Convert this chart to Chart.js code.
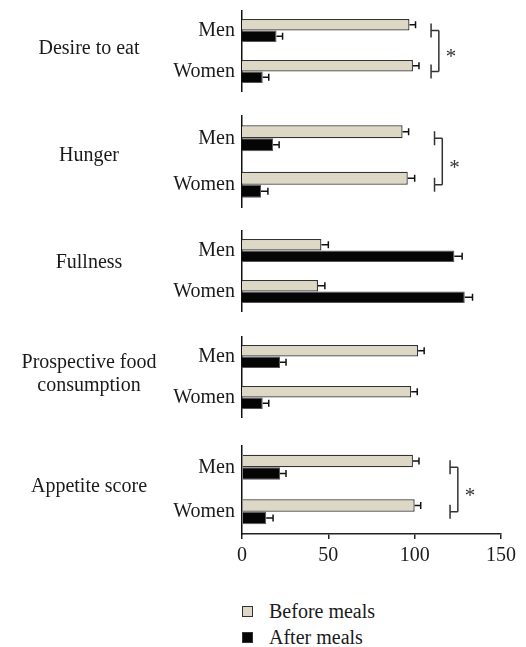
<!DOCTYPE html>
<html lang="en">
<head>
<meta charset="UTF-8">
<title>Appetite ratings before and after meals</title>
<script src="https://cdn.jsdelivr.net/npm/chart.js"></script>
<style>
  body { margin: 0; background: #fff; }
  #wrap { position: relative; width: 526px; height: 647px; font-family: "Liberation Serif", serif; color: #1a1a1a; }
  #wrap canvas { position: absolute; left: 0; }
  .leg { position: absolute; left: 242px; height: 24px; line-height: 24px; font-size: 20px; white-space: nowrap; }
  .leg span { display: inline-block; width: 9px; height: 9px; border: 1px solid #333; vertical-align: middle; margin: -3px 16px 0 0; }
</style>
</head>
<body>
<div id="wrap"></div>

<script>
    // data
    const sexes = ['Men', 'Women'];
    const groupLabels = [['Desire to eat'], ['Hunger'], ['Fullness'], ['Prospective food', 'consumption'], ['Appetite score']];
    const beforeMeals = [[97, 99], [93, 96], [46, 44], [102, 98], [99, 100]];
    const beforeErr = [[3.5, 3.5], [3.5, 4], [4, 4], [3.5, 3.5], [3.5, 3.5]];
    const afterMeals = [[20, 12], [18, 11], [123, 129], [22, 12], [22, 14]];
    const afterErr = [[3.5, 3.5], [3.5, 4], [4.5, 4.5], [3.5, 3.5], [3.5, 4]];
    const significant = [true, true, false, false, true];
    const xTicks = [0, 50, 100, 150];

    // panel layout (pixels) and bracket placement (axis units)
    const panels = [
        { top: 10, height: 82, labelDy: -2, bracket: [109.5, 114] },
        { top: 115, height: 93, labelDy: -6, bracket: [111.5, 116] },
        { top: 230, height: 82, labelDy: -8, bracket: null },
        { top: 336, height: 82, labelDy: -3, bracket: null },
        { top: 445, height: 89, labelDy: -3, bracket: [120.5, 125] }
    ];

    const beige = '#ddd8c5';
    const ink = '#1a1a1a';
    const serif = '"Liberation Serif", serif';

    const extras = {
        id: 'extras',
        afterDatasetsDraw(chart, args, opts) {
            const ctx = chart.ctx;
            const xs = chart.scales.x, ys = chart.scales.y;
            ctx.save();
            ctx.strokeStyle = '#111';
            ctx.lineWidth = 1.5;
            // error bars
            chart.data.datasets.forEach((ds, di) => {
                chart.getDatasetMeta(di).data.forEach((bar, i) => {
                    const x1 = xs.getPixelForValue(ds.data[i] + ds.errors[i]);
                    ctx.beginPath();
                    ctx.moveTo(bar.x, bar.y);
                    ctx.lineTo(x1, bar.y);
                    ctx.moveTo(x1, bar.y - 3.5);
                    ctx.lineTo(x1, bar.y + 3.5);
                    ctx.stroke();
                });
            });
            // significance bracket
            if (opts.sig && opts.bracket) {
                const xt = xs.getPixelForValue(opts.bracket[0]);
                const xl = xs.getPixelForValue(opts.bracket[1]);
                const y0 = ys.getPixelForValue(0), y1 = ys.getPixelForValue(1);
                ctx.strokeStyle = '#333';
                ctx.beginPath();
                [y0, y1].forEach(y => {
                    ctx.moveTo(xt, y - 7);
                    ctx.lineTo(xt, y + 7);
                    ctx.moveTo(xt, y);
                    ctx.lineTo(xl, y);
                });
                ctx.moveTo(xl, y0);
                ctx.lineTo(xl, y1);
                ctx.stroke();
                ctx.fillStyle = '#333';
                ctx.font = '21px ' + serif;
                ctx.textAlign = 'left';
                ctx.textBaseline = 'alphabetic';
                ctx.fillText('*', xl + 7, (y0 + y1) / 2 + 12);
            }
            ctx.restore();
        },
        afterDraw(chart, args, opts) {
            const ctx = chart.ctx;
            const area = chart.chartArea;
            const mid = (area.top + area.bottom) / 2 + opts.dy;
            const lines = opts.lines;
            ctx.save();
            ctx.fillStyle = ink;
            ctx.font = '20px ' + serif;
            ctx.textAlign = 'center';
            ctx.textBaseline = 'middle';
            lines.forEach((t, i) => {
                ctx.fillText(t, 89, mid + (i - (lines.length - 1) / 2) * 23);
            });
            ctx.restore();
        }
    };

    const wrap = document.getElementById('wrap');

    panels.forEach((p, g) => {
        const isLast = g === panels.length - 1;
        const canvas = document.createElement('canvas');
        canvas.width = 526;
        canvas.height = p.height + (isLast ? 40 : 0);
        canvas.style.top = p.top + 'px';
        wrap.appendChild(canvas);

        new Chart(canvas.getContext('2d'), {
            type: 'bar',
            data: {
                labels: sexes,
                datasets: [{
                    label: 'Before meals',
                    data: beforeMeals[g],
                    errors: beforeErr[g],
                    backgroundColor: beige,
                    borderColor: '#333',
                    borderWidth: 1.3
                }, {
                    label: 'After meals',
                    data: afterMeals[g],
                    errors: afterErr[g],
                    backgroundColor: '#050505',
                    borderColor: '#555',
                    borderWidth: 1
                }]
            },
            options: {
                indexAxis: 'y',
                responsive: false,
                animation: false,
                layout: { padding: { left: 0, right: 25, top: 0, bottom: 0 } },
                datasets: { bar: { categoryPercentage: 0.56, barPercentage: 1 } },
                plugins: {
                    legend: { display: false },
                    tooltip: { enabled: false },
                    extras: { lines: groupLabels[g], dy: p.labelDy, sig: significant[g], bracket: p.bracket }
                },
                scales: {
                    x: {
                        display: isLast,
                        min: 0,
                        max: 150,
                        afterBuildTicks: s => { s.ticks = xTicks.map(v => ({ value: v })); },
                        afterFit: s => {
                            if (isLast) s.height = 40;
                            s.paddingLeft = 0;
                            s.paddingRight = 0;
                        },
                        grid: { display: true, drawOnChartArea: false, drawTicks: true, tickLength: 5, color: '#222', lineWidth: 1.5 },
                        border: { display: true, color: '#222', width: 1.5 },
                        ticks: { padding: 5, color: ink, font: { family: serif, size: 20 } }
                    },
                    y: {
                        afterFit: s => {
                            s.width = 242;
                            s.paddingTop = 0;
                            s.paddingBottom = 0;
                        },
                        grid: { display: false, drawTicks: false },
                        border: { display: true, color: '#111', width: 1.5 },
                        ticks: { autoSkip: false, padding: 7, color: ink, font: { family: serif, size: 20 } }
                    }
                }
            },
            plugins: [extras]
        });
    });

    // legend, stacked like the figure
    [['Before meals', beige, 599], ['After meals', '#050505', 625]].forEach(([name, color, top]) => {
        const d = document.createElement('div');
        d.className = 'leg';
        d.style.top = top + 'px';
        d.innerHTML = '<span style="background:' + color + '"></span>' + name;
        wrap.appendChild(d);
    });
</script>
</body>
</html>
